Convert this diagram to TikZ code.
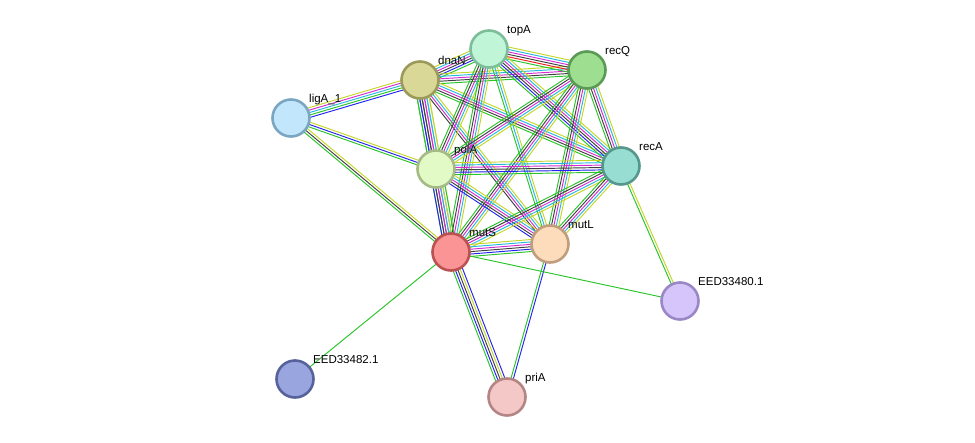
\documentclass[tikz,border=0pt]{standalone}
\usepackage{fontspec}
\setmainfont{Liberation Sans}
\usepackage[outline]{contour}
\contourlength{1.2pt}
\usetikzlibrary{calc,backgrounds}
\definecolor{sgreen}{RGB}{40,196,40}
\definecolor{sred}{RGB}{240,30,30}
\definecolor{sblue}{RGB}{36,36,240}
\definecolor{sblack}{RGB}{64,64,64}
\definecolor{smag}{RGB}{212,44,212}
\definecolor{scyan}{RGB}{40,184,222}
\definecolor{syel}{RGB}{196,214,40}
\newcommand{\medge}[3]{%
  \foreach \cc [count=\ii] in {#3} {\xdef\nnn{\ii}}%
  \foreach \cc [count=\ii] in {#3} {%
    \pgfmathsetmacro\ooo{(\ii-(\nnn+1)/2)*2.4}%
    \draw[\cc, line width=0.95pt] ($(#1)!\ooo pt!90:(#2)$) -- ($(#2)!\ooo pt!-90:(#1)$);
  }}
\newcommand{\halo}[1]{\contour{white}{#1}}
\begin{document}
\begin{tikzpicture}[x=1pt,y=-1pt,
  prot/.style={circle, inner sep=0pt, minimum size=37pt, line width=2.6pt},
  lbl/.style={anchor=base west, inner sep=0pt, font=\fontsize{11.5}{13}\selectfont}]
\useasboundingbox (0,0) rectangle (975,442);
\node[prot, fill={rgb,255:red,192;green,245;blue,216}, draw={rgb,255:red,124;green,190;blue,152}] (topA) at (489,49) {};
\node[prot, fill={rgb,255:red,158;green,222;blue,144}, draw={rgb,255:red,90;green,154;blue,85}] (recQ) at (587,70) {};
\node[prot, fill={rgb,255:red,217;green,216;blue,150}, draw={rgb,255:red,156;green,154;blue,90}] (dnaN) at (420,80) {};
\node[prot, fill={rgb,255:red,194;green,230;blue,251}, draw={rgb,255:red,122;green,166;blue,194}] (ligA) at (291,118) {};
\node[prot, fill={rgb,255:red,226;green,251;blue,198}, draw={rgb,255:red,166;green,186;blue,133}] (polA) at (436,169) {};
\node[prot, fill={rgb,255:red,151;green,221;blue,210}, draw={rgb,255:red,85;green,150;blue,141}] (recA) at (621,166) {};
\node[prot, fill={rgb,255:red,251;green,148;blue,148}, draw={rgb,255:red,187;green,81;blue,81}] (mutS) at (451,252) {};
\node[prot, fill={rgb,255:red,253;green,220;blue,188}, draw={rgb,255:red,191;green,157;blue,125}] (mutL) at (550,244) {};
\node[prot, fill={rgb,255:red,213;green,197;blue,250}, draw={rgb,255:red,154;green,135;blue,198}] (e480) at (680,301) {};
\node[prot, fill={rgb,255:red,152;green,165;blue,222}, draw={rgb,255:red,87;green,98;blue,155}] (e482) at (295,379) {};
\node[prot, fill={rgb,255:red,245;green,200;blue,200}, draw={rgb,255:red,181;green,133;blue,133}] (priA) at (507,397) {};
\begin{scope}[on background layer]
\medge{ligA}{dnaN}{sblue,sgreen,scyan,smag,syel}
\medge{ligA}{polA}{sgreen,sblue,syel}
\medge{ligA}{mutS}{sgreen,sblack,syel}
\medge{dnaN}{topA}{sgreen,sblue,sblack,smag,scyan,syel}
\medge{dnaN}{recQ}{sgreen,sblack,smag,scyan,syel}
\medge{dnaN}{recA}{sgreen,sblack,smag,scyan,syel}
\medge{dnaN}{mutL}{sblack,smag,scyan,syel}
\medge{dnaN}{polA}{sgreen,sblue,sblack,smag,scyan,syel}
\medge{dnaN}{mutS}{sgreen,sblue,sblack,smag,scyan,syel}
\medge{topA}{recQ}{sgreen,sred,sblack,smag,scyan,syel}
\medge{topA}{polA}{sgreen,sblack,smag,scyan,syel}
\medge{topA}{recA}{sgreen,sblue,sblack,smag,scyan,syel}
\medge{topA}{mutS}{sgreen,sblack,smag,scyan,syel}
\medge{topA}{mutL}{sgreen,scyan,syel}
\medge{recQ}{polA}{sgreen,sblack,smag,scyan,syel}
\medge{recQ}{recA}{sgreen,sblack,smag,scyan,syel}
\medge{recQ}{mutS}{sgreen,sblack,smag,scyan,syel}
\medge{recQ}{mutL}{sgreen,sblack,smag,scyan,syel}
\medge{polA}{recA}{sgreen,sblue,sblack,smag,scyan,syel}
\medge{polA}{mutS}{sblue,sblack,smag,scyan,syel,sgreen}
\medge{polA}{mutL}{sblue,sblack,smag,scyan,syel}
\medge{recA}{mutS}{sgreen,sblack,smag,scyan,syel}
\medge{recA}{mutL}{sgreen,sblack,smag,scyan,syel}
\medge{recA}{e480}{sgreen,syel}
\medge{mutS}{mutL}{sgreen,sblue,sblack,smag,scyan,syel}
\medge{mutS}{priA}{sgreen,sblue,sblack,syel,sblue}
\medge{mutL}{priA}{sgreen,sblue}
\medge{mutS}{e480}{sgreen}
\medge{mutS}{e482}{sgreen}
\end{scope}
\node[lbl] (topA-l) at ($(topA)+(18,-16)$) {\halo{topA}};
\node[lbl] (recQ-l) at ($(recQ)+(18,-16)$) {\halo{recQ}};
\node[lbl] (dnaN-l) at ($(dnaN)+(18,-16)$) {\halo{dnaN}};
\node[lbl] (ligA-l) at ($(ligA)+(18,-16)$) {\halo{ligA\_1}};
\node[lbl] (polA-l) at ($(polA)+(18,-16)$) {\halo{polA}};
\node[lbl] (recA-l) at ($(recA)+(18,-16)$) {\halo{recA}};
\node[lbl] (mutS-l) at ($(mutS)+(18,-16)$) {\halo{mutS}};
\node[lbl] (mutL-l) at ($(mutL)+(18,-16)$) {\halo{mutL}};
\node[lbl] (e480-l) at ($(e480)+(18,-16)$) {\halo{EED33480.1}};
\node[lbl] (e482-l) at ($(e482)+(18,-16)$) {\halo{EED33482.1}};
\node[lbl] (priA-l) at ($(priA)+(18,-16)$) {\halo{priA}};
\end{tikzpicture}
\end{document}
